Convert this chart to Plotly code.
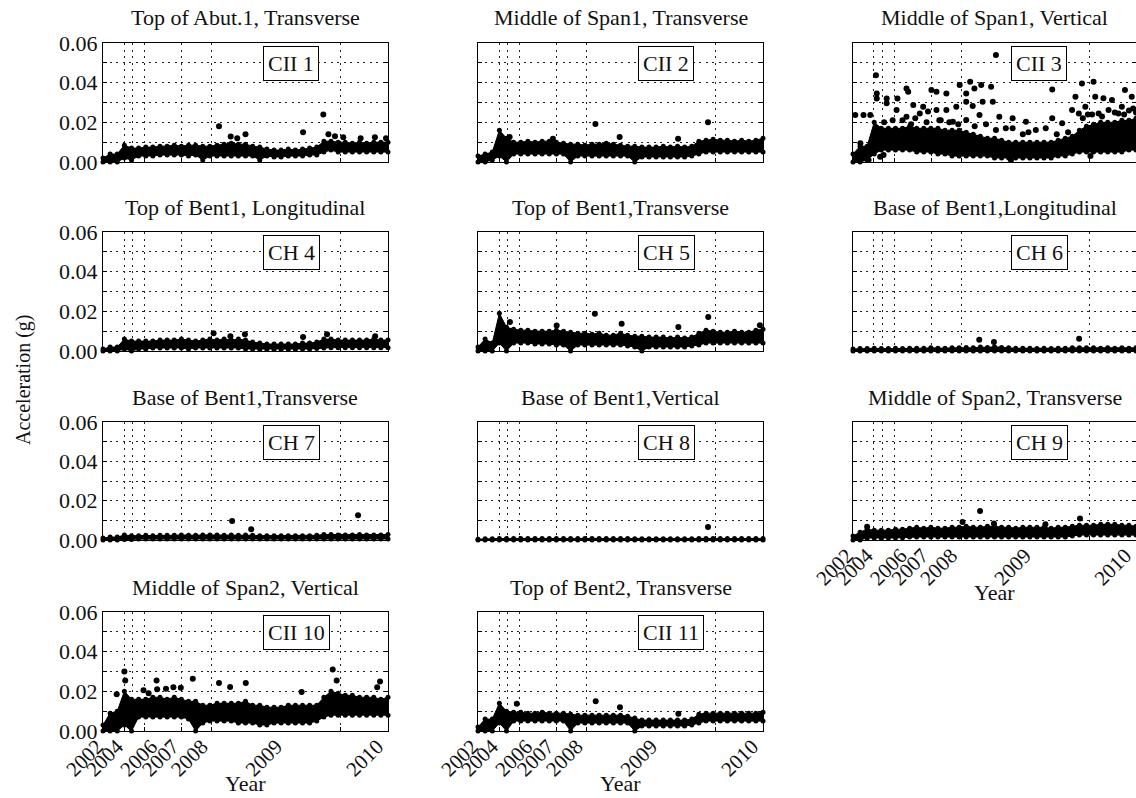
import plotly.graph_objects as go

# ---------------- data ----------------
X = [0, 25, 50, 75, 100, 125, 150, 175, 200, 225, 250, 275, 300, 325, 350, 375, 400,
     425, 450, 475, 500, 525, 550, 575, 600, 625, 650, 675, 700, 725, 750, 775, 800,
     825, 850, 875, 900, 925, 950, 975, 1000]

TITLES = ["Top of Abut.1, Transverse", "Middle of Span1, Transverse", "Middle of Span1, Vertical",
          "Top of Bent1, Longitudinal", "Top of Bent1,Transverse", "Base of Bent1,Longitudinal",
          "Base of Bent1,Transverse", "Base of Bent1,Vertical", "Middle of Span2, Transverse",
          "Middle of Span2, Vertical", "Top of Bent2, Transverse"]
LABELS = ["CII 1", "CII 2", "CII 3", "CH 4", "CH 5", "CH 6", "CH 7", "CH 8", "CH 9", "CII 10", "CII 11"]

GRID_X = [74, 104, 147, 276, 382, 834]
TICK_X = [0, 70, 190, 266, 368, 629, 983]
TICK_TEXT = ["2002", "2004", "2006", "2007", "2008", "2009", "2010"]
Y_TICKS = [0, 0.02, 0.04, 0.06]
Y_TEXT = ["0.00", "0.02", "0.04", "0.06"]

ch1_lo = [0.000, 0.000, 0.000, 0.002, 0.001, 0.003, 0.003, 0.003, 0.0035, 0.0035, 0.0035, 0.0035, 0.003, 0.0035,
          0.001, 0.003, 0.003, 0.003, 0.003, 0.003, 0.003, 0.003, 0.001, 0.003, 0.0025, 0.0025, 0.003, 0.003,
          0.003, 0.0035, 0.0035, 0.005, 0.006, 0.005, 0.005, 0.005, 0.005, 0.005, 0.005, 0.005, 0.005]
ch1_hi = [0.002, 0.004, 0.004, 0.0085, 0.007, 0.007, 0.0075, 0.0075, 0.008, 0.008, 0.0085, 0.008, 0.0085, 0.0085,
          0.008, 0.008, 0.0085, 0.009, 0.0095, 0.009, 0.009, 0.008, 0.0075, 0.0065, 0.006, 0.006, 0.0065, 0.006,
          0.0065, 0.007, 0.0075, 0.0105, 0.0105, 0.010, 0.010, 0.0095, 0.010, 0.0095, 0.010, 0.010, 0.010]
ch1_out_x = [407, 448, 471, 500, 702, 773, 791, 814, 843, 904, 954, 993]
ch1_out_y = [0.018, 0.0128, 0.012, 0.014, 0.015, 0.024, 0.014, 0.013, 0.0125, 0.012, 0.0125, 0.012]

ch2_lo = [0.000, 0.000, 0.001, 0.003, 0.000, 0.004, 0.004, 0.004, 0.004, 0.004, 0.004, 0.004, 0.004, 0.000,
          0.003, 0.003, 0.003, 0.003, 0.003, 0.003, 0.003, 0.003, 0.000, 0.0025, 0.0025, 0.0025, 0.0025, 0.0025,
          0.0025, 0.0025, 0.003, 0.004, 0.005, 0.005, 0.005, 0.005, 0.005, 0.005, 0.005, 0.005, 0.005]
ch2_hi = [0.003, 0.004, 0.005, 0.016, 0.012, 0.010, 0.010, 0.0105, 0.010, 0.0105, 0.0105, 0.010, 0.0095, 0.009,
          0.009, 0.0085, 0.009, 0.009, 0.0095, 0.009, 0.0085, 0.008, 0.008, 0.0075, 0.0075, 0.0075, 0.008, 0.0075,
          0.008, 0.0075, 0.008, 0.0105, 0.011, 0.0115, 0.011, 0.011, 0.0105, 0.011, 0.0105, 0.011, 0.012]
ch2_out_x = [412, 807, 497, 111, 263, 702]
ch2_out_y = [0.0192, 0.020, 0.0126, 0.0126, 0.0117, 0.0117]

ch3_lo = [0.000, 0.000, 0.001, 0.004, 0.006, 0.006, 0.006, 0.006, 0.006, 0.005, 0.005, 0.005, 0.004, 0.004,
          0.003, 0.003, 0.003, 0.003, 0.003, 0.003, 0.002, 0.002, 0.002, 0.002, 0.002, 0.002, 0.002, 0.002,
          0.002, 0.003, 0.003, 0.004, 0.005, 0.005, 0.005, 0.005, 0.005, 0.005, 0.005, 0.006, 0.006]
ch3_hi = [0.004, 0.008, 0.008, 0.020, 0.017, 0.017, 0.017, 0.017, 0.018, 0.017, 0.017, 0.017, 0.017, 0.016,
          0.016, 0.016, 0.015, 0.014, 0.013, 0.012, 0.012, 0.011, 0.010, 0.010, 0.010, 0.010, 0.010, 0.010,
          0.010, 0.011, 0.012, 0.013, 0.016, 0.018, 0.019, 0.020, 0.020, 0.020, 0.021, 0.021, 0.022]
ch3_out_x = [8, 37, 26, 81, 84, 84, 119, 157, 119, 189, 195, 213, 248, 236, 277, 295, 330, 377, 400, 414,
             429, 453, 488, 505, 494, 458, 400, 423, 365, 330, 295, 265, 154, 447, 517, 564, 611, 646, 704,
             704, 681, 739, 786, 809, 850, 821, 856, 885, 915, 961, 985, 950, 774, 798, 868, 903, 839, 938,
             564, 505, 400, 353, 189, 61, 96, 55, 14, 558, 108, 140, 220, 310, 470, 540, 620, 760, 830, 990,
             110, 175, 205, 260, 305, 340, 372, 430, 812, 845, 880, 925, 958, 975, 1000, 600, 720]
ch3_out_y = [0.0237, 0.0237, 0.0094, 0.0438, 0.0346, 0.032, 0.032, 0.032, 0.0296, 0.0371, 0.0354, 0.0287,
             0.0279, 0.0245, 0.0363, 0.0354, 0.0346, 0.0388, 0.0346, 0.0405, 0.0371, 0.0388, 0.038, 0.0539,
             0.0304, 0.0304, 0.0304, 0.0282, 0.0279, 0.0262, 0.0262, 0.0254, 0.0262, 0.0237, 0.0228, 0.022,
             0.0203, 0.0161, 0.0366, 0.022, 0.017, 0.0195, 0.0329, 0.0396, 0.0405, 0.0279, 0.0329, 0.0321,
             0.0312, 0.0363, 0.0329, 0.0279, 0.0262, 0.0245, 0.0245, 0.0262, 0.003, 0.0245, 0.017, 0.0161,
             0.0212, 0.0203, 0.0228, 0.0237, 0.0027, 0.001, 0.001, 0.001, 0.0035, 0.021, 0.022, 0.021, 0.019,
             0.017, 0.015, 0.015, 0.024, 0.027,
             0.020, 0.021, 0.019, 0.020, 0.021, 0.020, 0.019, 0.018, 0.022, 0.024, 0.023, 0.025, 0.024, 0.026,
             0.025, 0.014, 0.014]

ch4_lo = [0.000, 0.000, 0.000, 0.001, 0.000, 0.001, 0.001, 0.0015, 0.0015, 0.0015, 0.0015, 0.0015, 0.001, 0.0015,
          0.0015, 0.0015, 0.0015, 0.0015, 0.0015, 0.0015, 0.001, 0.001, 0.0008, 0.0008, 0.0008, 0.0008, 0.0008,
          0.0008, 0.001, 0.001, 0.0012, 0.0015, 0.0017, 0.0017, 0.0017, 0.0017, 0.0017, 0.0017, 0.0017, 0.0017, 0.0017]
ch4_hi = [0.001, 0.002, 0.002, 0.006, 0.005, 0.005, 0.005, 0.005, 0.0055, 0.0055, 0.0055, 0.006, 0.0055, 0.005,
          0.0055, 0.006, 0.0055, 0.006, 0.0055, 0.006, 0.0055, 0.0045, 0.004, 0.0035, 0.0035, 0.0035, 0.0035,
          0.0035, 0.004, 0.004, 0.0045, 0.006, 0.006, 0.0055, 0.0055, 0.0055, 0.0055, 0.0055, 0.006, 0.0055, 0.0055]
ch4_out_x = [388, 702, 786, 955, 447, 498]
ch4_out_y = [0.009, 0.007, 0.0084, 0.0074, 0.0074, 0.0084]

ch5_lo = [0.000, 0.000, 0.000, 0.004, 0.000, 0.004, 0.004, 0.004, 0.0035, 0.0035, 0.0035, 0.003, 0.003, 0.000,
          0.003, 0.003, 0.003, 0.003, 0.003, 0.003, 0.003, 0.0025, 0.002, 0.000, 0.002, 0.002, 0.002, 0.002,
          0.002, 0.002, 0.0025, 0.003, 0.004, 0.004, 0.004, 0.004, 0.004, 0.004, 0.004, 0.004, 0.004]
ch5_hi = [0.002, 0.006, 0.004, 0.019, 0.012, 0.011, 0.0105, 0.0105, 0.010, 0.010, 0.010, 0.0105, 0.010, 0.0095,
          0.009, 0.009, 0.0085, 0.009, 0.008, 0.008, 0.009, 0.008, 0.0075, 0.0075, 0.007, 0.007, 0.007, 0.0065,
          0.007, 0.0065, 0.007, 0.009, 0.0105, 0.010, 0.0095, 0.0095, 0.010, 0.0095, 0.0095, 0.0105, 0.011]
ch5_out_x = [410, 808, 276, 504, 703, 112, 989]
ch5_out_y = [0.0188, 0.0171, 0.0129, 0.0138, 0.0121, 0.0146, 0.013]

ch6_lo = [0.000, 0.000, 0.000, 0.000, 0.000, 0.000, 0.000, 0.000, 0.000, 0.000, 0.000, 0.000, 0.000, 0.000,
          0.000, 0.000, 0.000, 0.000, 0.000, 0.000, 0.000, 0.000, 0.000, 0.000, 0.000, 0.000, 0.000, 0.000,
          0.000, 0.000, 0.000, 0.000, 0.000, 0.000, 0.000, 0.000, 0.000, 0.000, 0.000, 0.000, 0.000]
ch6_hi = [0.0010, 0.0012, 0.0012, 0.0014, 0.0012, 0.0012, 0.0014, 0.0012, 0.0014, 0.0014, 0.0014, 0.0016, 0.0014,
          0.0014, 0.0016, 0.0016, 0.0018, 0.0016, 0.0020, 0.0018, 0.0022, 0.0018, 0.0016, 0.0014, 0.0014, 0.0014,
          0.0012, 0.0014, 0.0012, 0.0014, 0.0014, 0.0016, 0.0016, 0.0016, 0.0016, 0.0014, 0.0016, 0.0014, 0.0016,
          0.0014, 0.0016]
ch6_out_x = [799, 446, 498]
ch6_out_y = [0.0062, 0.0057, 0.0045]

ch7_lo = [0.000, 0.000, 0.000, 0.0003, 0.0003, 0.0005, 0.0005, 0.0005, 0.0005, 0.0005, 0.0005, 0.0005, 0.0005,
          0.0005, 0.0005, 0.0005, 0.0005, 0.0005, 0.0005, 0.0005, 0.0005, 0.0005, 0.0005, 0.0005, 0.0005, 0.0005,
          0.0005, 0.0005, 0.0005, 0.0005, 0.0005, 0.0005, 0.0005, 0.0005, 0.0005, 0.0005, 0.0005, 0.0005, 0.0005,
          0.0005, 0.0005]
ch7_hi = [0.0010, 0.0015, 0.0015, 0.0025, 0.0022, 0.0022, 0.0024, 0.0022, 0.0024, 0.0024, 0.0024, 0.0026, 0.0024,
          0.0024, 0.0026, 0.0026, 0.0026, 0.0024, 0.0026, 0.0024, 0.0026, 0.0024, 0.0022, 0.0022, 0.0022, 0.0022,
          0.0022, 0.0022, 0.0022, 0.0022, 0.0024, 0.0028, 0.0028, 0.0026, 0.0026, 0.0026, 0.0028, 0.0026, 0.0026,
          0.0026, 0.0028]
ch7_out_x = [453, 895, 520]
ch7_out_y = [0.0096, 0.0126, 0.0055]

ch8_lo = [0.000, 0.000, 0.000, 0.000, 0.000, 0.000, 0.000, 0.000, 0.000, 0.000, 0.000, 0.000, 0.000, 0.000,
          0.000, 0.000, 0.000, 0.000, 0.000, 0.000, 0.000, 0.000, 0.000, 0.000, 0.000, 0.000, 0.000, 0.000,
          0.000, 0.000, 0.000, 0.000, 0.000, 0.000, 0.000, 0.000, 0.000, 0.000, 0.000, 0.000, 0.000]
ch8_hi = [0.0004, 0.0006, 0.0006, 0.0008, 0.0008, 0.0008, 0.0008, 0.0008, 0.0008, 0.0008, 0.0008, 0.0008, 0.0008,
          0.0008, 0.0008, 0.0008, 0.0008, 0.0008, 0.0008, 0.0008, 0.0008, 0.0008, 0.0006, 0.0006, 0.0006, 0.0006,
          0.0006, 0.0006, 0.0006, 0.0006, 0.0006, 0.0008, 0.0008, 0.0008, 0.0008, 0.0008, 0.0008, 0.0008, 0.0008,
          0.0008, 0.0008]
ch8_out_x = [807]
ch8_out_y = [0.0066]

ch9_lo = [0.000, 0.000, 0.001, 0.001, 0.0008, 0.001, 0.001, 0.0012, 0.0015, 0.0015, 0.0015, 0.0015, 0.0015, 0.0015,
          0.0015, 0.0015, 0.0015, 0.0015, 0.0015, 0.0015, 0.0015, 0.0015, 0.0015, 0.0015, 0.0015, 0.0015, 0.0015,
          0.0015, 0.0015, 0.0015, 0.0015, 0.002, 0.0025, 0.0025, 0.0025, 0.0025, 0.0025, 0.0025, 0.0025, 0.0025, 0.0025]
ch9_hi = [0.002, 0.004, 0.0055, 0.005, 0.005, 0.005, 0.0055, 0.0055, 0.006, 0.0065, 0.006, 0.0065, 0.006, 0.006,
          0.0065, 0.0065, 0.007, 0.0065, 0.0065, 0.007, 0.007, 0.0065, 0.0065, 0.006, 0.0065, 0.0065, 0.0065,
          0.0065, 0.006, 0.0065, 0.0065, 0.007, 0.0075, 0.0075, 0.0075, 0.008, 0.008, 0.008, 0.0075, 0.0075, 0.007]
ch9_out_x = [449, 802, 387, 498, 680, 50]
ch9_out_y = [0.0148, 0.0109, 0.0092, 0.0084, 0.008, 0.0067]

ch10_lo = [0.000, 0.000, 0.000, 0.003, 0.000, 0.007, 0.007, 0.007, 0.007, 0.007, 0.007, 0.007, 0.006, 0.000,
           0.004, 0.005, 0.005, 0.005, 0.005, 0.004, 0.004, 0.004, 0.003, 0.003, 0.004, 0.004, 0.004, 0.004,
           0.004, 0.004, 0.005, 0.007, 0.008, 0.008, 0.008, 0.008, 0.008, 0.008, 0.008, 0.008, 0.008]
ch10_hi = [0.003, 0.009, 0.010, 0.020, 0.016, 0.016, 0.016, 0.017, 0.017, 0.016, 0.017, 0.016, 0.015, 0.015,
           0.013, 0.013, 0.014, 0.014, 0.014, 0.014, 0.015, 0.013, 0.013, 0.012, 0.012, 0.012, 0.013, 0.013,
           0.013, 0.013, 0.013, 0.017, 0.020, 0.019, 0.018, 0.018, 0.017, 0.017, 0.017, 0.016, 0.017]
ch10_out_x = [75, 48, 78, 188, 315, 407, 446, 501, 273, 697, 806, 820, 972, 962, 142, 221, 247, 190, 160]
ch10_out_y = [0.030, 0.0185, 0.0255, 0.0255, 0.0264, 0.0242, 0.0222, 0.0242, 0.0218, 0.0197, 0.031, 0.0255,
              0.025, 0.022, 0.0205, 0.0213, 0.022, 0.021, 0.019]

ch11_lo = [0.000, 0.000, 0.000, 0.004, 0.000, 0.005, 0.005, 0.005, 0.005, 0.005, 0.005, 0.005, 0.005, 0.000,
           0.004, 0.004, 0.004, 0.004, 0.004, 0.004, 0.004, 0.004, 0.000, 0.0025, 0.0025, 0.0025, 0.0025, 0.0025,
           0.0025, 0.0025, 0.003, 0.004, 0.005, 0.005, 0.005, 0.005, 0.005, 0.005, 0.005, 0.005, 0.005]
ch11_hi = [0.002, 0.006, 0.006, 0.014, 0.010, 0.0095, 0.0095, 0.009, 0.009, 0.0095, 0.009, 0.009, 0.009, 0.0085,
           0.008, 0.008, 0.008, 0.008, 0.008, 0.008, 0.008, 0.0075, 0.0065, 0.0055, 0.0055, 0.0055, 0.0055, 0.0055,
           0.0055, 0.0055, 0.006, 0.0085, 0.009, 0.009, 0.009, 0.009, 0.009, 0.009, 0.009, 0.009, 0.0095]
ch11_out_x = [413, 498, 136, 703]
ch11_out_y = [0.015, 0.012, 0.0138, 0.0087]

LO = [ch1_lo, ch2_lo, ch3_lo, ch4_lo, ch5_lo, ch6_lo, ch7_lo, ch8_lo, ch9_lo, ch10_lo, ch11_lo]
HI = [ch1_hi, ch2_hi, ch3_hi, ch4_hi, ch5_hi, ch6_hi, ch7_hi, ch8_hi, ch9_hi, ch10_hi, ch11_hi]
OUT_X = [ch1_out_x, ch2_out_x, ch3_out_x, ch4_out_x, ch5_out_x, ch6_out_x, ch7_out_x, ch8_out_x, ch9_out_x,
         ch10_out_x, ch11_out_x]
OUT_Y = [ch1_out_y, ch2_out_y, ch3_out_y, ch4_out_y, ch5_out_y, ch6_out_y, ch7_out_y, ch8_out_y, ch9_out_y,
         ch10_out_y, ch11_out_y]

# ---------------- layout ----------------
W, H = 1136, 798
COL_PX = [(103, 388), (478, 763), (853, 1136)]
ROW_PX = [(43, 162), (232, 351), (422, 540), (612, 731)]
BOTTOM_PANELS = {9, 10, 11}

FONT = "Liberation Serif"
INK = "#111111"
DASH = "2px,4.5px"

fig = go.Figure()
annotations = []

for i in range(11):
    n = i + 1
    r, c = divmod(i, 3)
    sx = "" if n == 1 else str(n)
    xa, ya = "x" + sx, "y" + sx
    mk = dict(color="black", size=5)
    fig.add_trace(go.Scatter(x=X, y=LO[i], xaxis=xa, yaxis=ya, mode="lines+markers",
                             line=dict(color="black", width=1), marker=mk,
                             cliponaxis=False, showlegend=False, hoverinfo="skip"))
    fig.add_trace(go.Scatter(x=X, y=HI[i], xaxis=xa, yaxis=ya, mode="lines+markers",
                             line=dict(color="black", width=1), marker=mk, fill="tonexty",
                             fillcolor="black", cliponaxis=False, showlegend=False, hoverinfo="skip"))
    fig.add_trace(go.Scatter(x=OUT_X[i], y=OUT_Y[i], xaxis=xa, yaxis=ya, mode="markers",
                             marker=dict(color="black", size=6), cliponaxis=False,
                             showlegend=False, hoverinfo="skip"))

    x0, x1 = COL_PX[c]
    y0, y1 = ROW_PX[r]
    xdom = [x0 / W, min(x1 / W, 1.0)]
    ydom = [1 - y1 / H, 1 - y0 / H]
    bottom = n in BOTTOM_PANELS
    fig.update_layout(**{
        ("xaxis" + sx): dict(
            domain=xdom, anchor=ya, range=[0, 1000], showgrid=False, zeroline=False, automargin=False,
            tickmode="array", tickvals=TICK_X, ticktext=TICK_TEXT, ticks="",
            showticklabels=bottom, tickangle=-45, ticklabelstandoff=-6, ticklabelshift=-6,
            ticklabeloverflow="allow",
            tickfont=dict(family=FONT, size=21, color=INK),
            showline=True, linecolor="black", linewidth=1, mirror=True,
            minor=dict(tickmode="array", tickvals=GRID_X, ticks="inside", ticklen=4,
                       tickcolor="black", showgrid=True, gridcolor="#222", gridwidth=1, griddash=DASH),
        ),
        ("yaxis" + sx): dict(
            domain=ydom, anchor=xa, range=[0, 0.06], zeroline=False, automargin=False,
            tickmode="array", tickvals=Y_TICKS, ticktext=Y_TEXT, ticks="inside", ticklen=4,
            tickcolor="black", showticklabels=(c == 0),
            tickfont=dict(family=FONT, size=22, color=INK),
            showgrid=True, gridcolor="#222", gridwidth=1, griddash=DASH,
            showline=True, linecolor="black", linewidth=1, mirror="allticks",
            minor=dict(dtick=0.01, ticks="inside", ticklen=4, tickcolor="black",
                       showgrid=True, gridcolor="#222", gridwidth=1, griddash=DASH),
        ),
    })
    # subplot title
    annotations.append(dict(text=TITLES[i], xref=xa + " domain", yref="paper", x=0.5,
                            y=1 - (y0 - 25) / H, xanchor="center", yanchor="middle", showarrow=False,
                            font=dict(family=FONT, size=22, color=INK)))
    # channel label box
    annotations.append(dict(text=LABELS[i], xref=xa + " domain", yref=ya + " domain", x=0.56,
                            y=1 - 20 / (y1 - y0), xanchor="left", yanchor="middle", showarrow=False,
                            bgcolor="white", bordercolor="black", borderwidth=1, borderpad=4,
                            font=dict(family=FONT, size=22, color=INK)))
    if bottom:
        annotations.append(dict(text="Year", xref=xa + " domain", yref="paper", x=0.5,
                                y=1 - (y1 + 52) / H, xanchor="center", yanchor="middle", showarrow=False,
                                font=dict(family=FONT, size=22, color=INK)))

annotations.append(dict(text="Acceleration (g)", xref="paper", yref="paper", x=23 / W, y=1 - 380 / H,
                        xanchor="center", yanchor="middle", textangle=-90, showarrow=False,
                        font=dict(family=FONT, size=20, color=INK)))

fig.update_layout(width=W, height=H, autosize=False, margin=dict(l=0, r=0, t=0, b=0, pad=0),
                  paper_bgcolor="white", plot_bgcolor="white", annotations=annotations,
                  showlegend=False)

fig.write_html("out.html")
